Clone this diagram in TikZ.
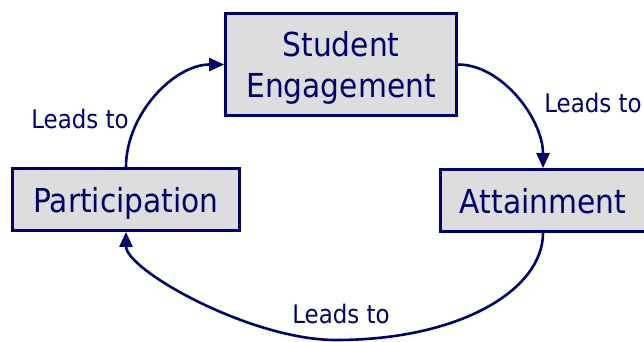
\documentclass[tikz,border=0pt]{standalone}
\usepackage{fontspec}
\setmainfont{DejaVu Sans}[FakeStretch=0.9]
\usetikzlibrary{arrows.meta}
\definecolor{navy}{RGB}{0,0,110}
\definecolor{boxgray}{RGB}{221,221,221}
\begin{document}
\begin{tikzpicture}[x=1pt,y=-1pt,
  box/.style={draw=navy,fill=boxgray,line width=2.8pt,inner sep=0pt,text=navy,
    font=\fontsize{33}{41.5}\selectfont,align=center,text depth=0pt},
  conn/.style={draw=navy,line width=2.6pt,-{Triangle[length=15pt,width=13pt]}},
  lbl/.style={text=navy,font=\fontsize{25.5}{30}\selectfont,inner sep=0pt,anchor=base}]
\useasboundingbox (0,0) rectangle (644,342);
\node[box,minimum width=231pt,minimum height=102pt] (se) at (341,64.5) {Student\\Engagement};
\node[box,minimum width=227pt,minimum height=62pt] (part) at (126,199.5) {Participation};
\node[box,minimum width=205pt,minimum height=62pt] (att) at (543,200.5) {Attainment};
\coordinate (bot) at (336,340);
\draw[conn] (part.north) .. controls +(0,-53) and +(-50,0) .. (se.west);
\draw[conn] (se.east) .. controls +(44,0) and +(0,-49) .. (att.north);
\draw[conn] (att.south) .. controls +(0,57) and +(124,0) .. (bot)
  .. controls +(-86,0) and +(0,38) .. (part.south);
\node[lbl] (l1) at (80,128) {Leads to};
\node[lbl] (l2) at (593,112) {Leads to};
\node[lbl] (l3) at (341,323) {Leads to};
\end{tikzpicture}
\end{document}
